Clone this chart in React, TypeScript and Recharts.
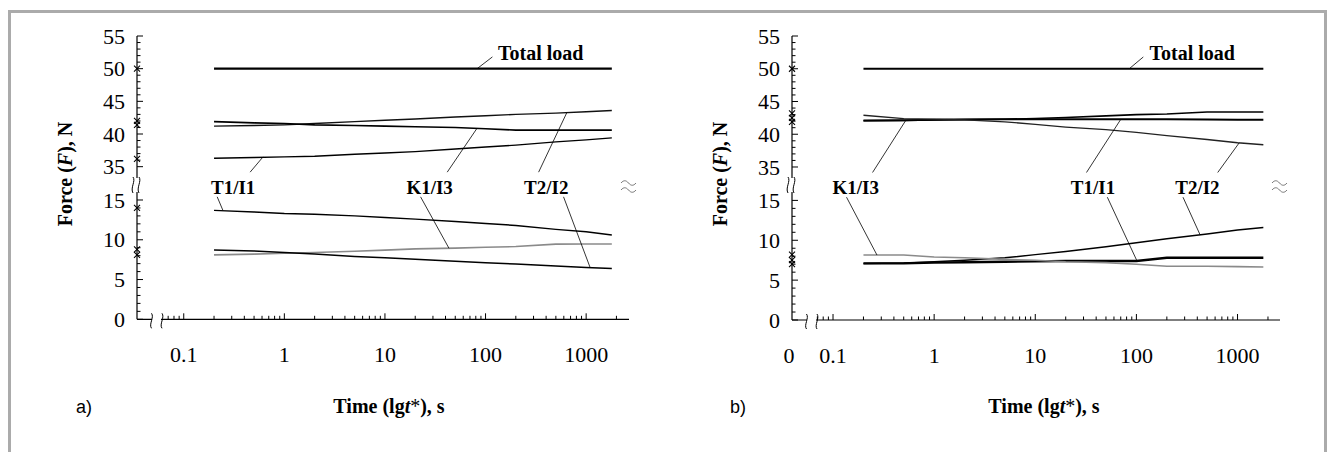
import React from 'react';
import {
  ComposedChart,
  Line,
  Scatter,
  XAxis,
  YAxis,
  ReferenceLine,
  ReferenceDot,
} from 'recharts';

// time points of the measured curves, s
const TIMES = [0.2, 0.5, 1, 2, 5, 10, 20, 50, 100, 200, 500, 1000, 1800];

// a) forces, N
const A_TOTAL = [50, 50, 50, 50, 50, 50, 50, 50, 50, 50, 50, 50, 50];
const A_T1I1_TOP = [36.3, 36.4, 36.5, 36.6, 36.9, 37.1, 37.3, 37.7, 38.0, 38.3, 38.8, 39.1, 39.4];
const A_T2I2_TOP = [41.2, 41.3, 41.4, 41.6, 41.9, 42.1, 42.3, 42.6, 42.8, 43.0, 43.2, 43.4, 43.6];
const A_K1I3_TOP = [41.9, 41.7, 41.6, 41.4, 41.3, 41.2, 41.1, 41.0, 40.8, 40.6, 40.6, 40.6, 40.6];
const A_T1I1_BOT = [13.7, 13.5, 13.3, 13.2, 13.0, 12.8, 12.6, 12.3, 12.05, 11.8, 11.3, 11.0, 10.6];
const A_K1I3_BOT = [8.1, 8.2, 8.3, 8.4, 8.55, 8.7, 8.85, 8.95, 9.05, 9.15, 9.45, 9.47, 9.47];
const A_T2I2_BOT = [8.7, 8.6, 8.4, 8.2, 7.9, 7.75, 7.55, 7.3, 7.1, 6.95, 6.7, 6.5, 6.4];
const A_START = [50, 42.0, 41.4, 36.2, 14.0, 8.8, 8.1];

// b) forces, N
const B_TOTAL = [50, 50, 50, 50, 50, 50, 50, 50, 50, 50, 50, 50, 50];
const B_K1I3_TOP = [42.05, 42.1, 42.2, 42.25, 42.3, 42.4, 42.55, 42.8, 43.0, 43.1, 43.4, 43.4, 43.4];
const B_T1I1_TOP = [42.1, 42.15, 42.2, 42.25, 42.3, 42.3, 42.3, 42.3, 42.3, 42.3, 42.25, 42.2, 42.2];
const B_T2I2_TOP = [42.9, 42.4, 42.3, 42.2, 41.9, 41.5, 41.1, 40.7, 40.3, 39.8, 39.2, 38.7, 38.4];
const B_T2I2_BOT = [7.1, 7.15, 7.3, 7.5, 7.8, 8.2, 8.6, 9.2, 9.7, 10.2, 10.8, 11.3, 11.6];
const B_T1I1_BOT = [7.1, 7.1, 7.2, 7.25, 7.3, 7.35, 7.4, 7.4, 7.4, 7.8, 7.8, 7.8, 7.8];
const B_K1I3_BOT = [8.15, 8.15, 7.9, 7.8, 7.6, 7.5, 7.3, 7.2, 7.0, 6.75, 6.75, 6.7, 6.65];
const B_START = [50, 43.2, 42.5, 41.9, 8.2, 7.5, 7.0];

const X_TICKS = [
  0.07, 0.08, 0.09, 0.1, 0.2, 0.3, 0.4, 0.5, 0.6, 0.7, 0.8, 0.9, 1, 2, 3, 4, 5, 6, 7, 8, 9,
  10, 20, 30, 40, 50, 60, 70, 80, 90, 100, 200, 300, 400, 500, 600, 700, 800, 900, 1000, 2000,
];
const X_LABELS = [0.1, 1, 10, 100, 1000];
const Y_TICKS = [
  0, 1, 2, 3, 4, 5, 6, 7, 8, 9, 10, 11, 12, 13, 14, 15,
  35, 36, 37, 38, 39, 40, 41, 42, 43, 44, 45, 46, 47, 48, 49, 50, 51, 52, 53, 54, 55,
];
const Y_LABELS = [0, 5, 10, 15, 35, 40, 45, 50, 55];

// broken force axis: 0-15 N below, 35-55 N above (a bit compressed)
const LOW_TOP = 15;
const GAP = 4.19;
const HIGH_K = 0.8215;
const toAxis = (f: number) => (f <= LOW_TOP ? f : LOW_TOP + GAP + (f - 35) * HIGH_K);
const fromAxis = (a: number) => (a <= LOW_TOP + 0.001 ? a : 35 + (a - LOW_TOP - GAP) / HIGH_K);
const Y_MAX = toAxis(55);

// positions inside the gap for callout text and leader ends (axis units)
const GAP_HI = 18.5;
const GAP_MID = 16.65;
const GAP_LO = 15.4;

const SERIF = '"Liberation Serif", "Times New Roman", serif';
const SANS = '"Liberation Sans", Arial, sans-serif';
const TICK_FONT = 22;

const panelA = {
  left: 0,
  mr: 31,
  mb: 92.7,
  xMin: 0.0343,
  xMax: 2667,
  zero: false,
  series: [
    { values: A_TOTAL, color: '#000', width: 2.2 },
    { values: A_T1I1_TOP, color: '#000', width: 1.4 },
    { values: A_T2I2_TOP, color: '#111', width: 1.4 },
    { values: A_K1I3_TOP, color: '#000', width: 1.6 },
    { values: A_T1I1_BOT, color: '#000', width: 1.4 },
    { values: A_K1I3_BOT, color: '#8a8a8a', width: 1.6 },
    { values: A_T2I2_BOT, color: '#000', width: 1.5 },
  ],
  starts: A_START,
  labels: [
    { text: 'Total load', t: 354, y: toAxis(52.4), size: 20 },
    { text: 'T1/I1', t: 0.31, y: GAP_MID, size: 19 },
    { text: 'K1/I3', t: 27.8, y: GAP_MID, size: 19 },
    { text: 'T2/I2', t: 401, y: GAP_MID, size: 19 },
  ],
  leaders: [
    [82.5, toAxis(50), 117, toAxis(51.8)],
    [0.457, GAP_HI, 0.614, toAxis(36.5)],
    [0.215, GAP_LO, 0.245, toAxis(13.7)],
    [41.6, GAP_HI, 82.5, toAxis(40.9)],
    [22.6, GAP_LO, 43.3, toAxis(8.93)],
    [337, GAP_HI, 644, toAxis(43.3)],
    [596, GAP_LO, 1096, toAxis(6.5)],
  ],
};

const panelB = {
  left: 655,
  mr: 35,
  mb: 92,
  xMin: 0.0393,
  xMax: 2630,
  zero: true,
  series: [
    { values: B_TOTAL, color: '#000', width: 2.2 },
    { values: B_K1I3_TOP, color: '#000', width: 1.6 },
    { values: B_T1I1_TOP, color: '#000', width: 2 },
    { values: B_T2I2_TOP, color: '#222', width: 1.3 },
    { values: B_T2I2_BOT, color: '#000', width: 1.5 },
    { values: B_T1I1_BOT, color: '#000', width: 2.4 },
    { values: B_K1I3_BOT, color: '#8a8a8a', width: 1.6 },
  ],
  starts: B_START,
  labels: [
    { text: 'Total load', t: 357, y: toAxis(52.4), size: 20 },
    { text: 'K1/I3', t: 0.168, y: GAP_MID, size: 19 },
    { text: 'T1/I1', t: 37.2, y: GAP_MID, size: 19 },
    { text: 'T2/I2', t: 401, y: GAP_MID, size: 19 },
  ],
  leaders: [
    [85, toAxis(50), 117, toAxis(51.8)],
    [0.246, GAP_HI, 0.521, toAxis(42.05)],
    [0.136, GAP_LO, 0.272, toAxis(8.15)],
    [32.1, GAP_HI, 70.2, toAxis(42.3)],
    [51.6, GAP_LO, 101, toAxis(7.45)],
    [637, GAP_HI, 1040, toAxis(38.7)],
    [289, GAP_LO, 424, toAxis(10.75)],
  ],
};

const XTick = (props: any) => {
  const { x, y, payload, zero, xMin } = props;
  const v = payload.value;
  if (v === xMin) {
    return zero ? (
      <text x={x - 3} y={y + 43} textAnchor="middle" fontSize={TICK_FONT} fontFamily={SERIF} fill="#000">
        0
      </text>
    ) : (
      <g />
    );
  }
  const major = X_LABELS.includes(v);
  return (
    <g>
      <line x1={x} x2={x} y1={y} y2={y - (major ? 6 : 3.5)} stroke="#000" strokeWidth={1} />
      {major && (
        <text x={x} y={y + 43} textAnchor="middle" fontSize={TICK_FONT} fontFamily={SERIF} fill="#000">
          {v}
        </text>
      )}
    </g>
  );
};

const YTick = (props: any) => {
  const { x, y, payload } = props;
  const f = Math.round(fromAxis(payload.value));
  const major = Y_LABELS.includes(f);
  return (
    <g>
      <line x1={x} x2={x + (major ? 6 : 3.5)} y1={y} y2={y} stroke="#000" strokeWidth={1} />
      {major && (
        <text x={x - 12} y={y} dy="0.35em" textAnchor="end" fontSize={TICK_FONT} fontFamily={SERIF} fill="#000">
          {f}
        </text>
      )}
    </g>
  );
};

const Cross = (props: any) => {
  const { cx, cy } = props;
  return (
    <g stroke="#000" strokeWidth={1.1}>
      <line x1={cx - 3} y1={cy - 3} x2={cx + 3} y2={cy + 3} />
      <line x1={cx - 3} y1={cy + 3} x2={cx + 3} y2={cy - 3} />
    </g>
  );
};

const Panel = ({ p }: { p: typeof panelA }) => {
  const ticks = p.zero ? [p.xMin, ...X_TICKS] : X_TICKS;
  const starts = p.starts.map((f) => ({ t: p.xMin, y: toAxis(f) }));
  return (
    <div style={{ position: 'absolute', left: p.left, top: 0 }}>
      <ComposedChart width={660} height={452} margin={{ top: 36, right: p.mr, bottom: p.mb, left: 77 }}>
        <XAxis
          dataKey="t"
          type="number"
          scale="log"
          domain={[p.xMin, p.xMax]}
          ticks={ticks}
          interval={0}
          tickSize={0}
          tickMargin={0}
          tickLine={false}
          height={40}
          axisLine={{ stroke: '#000', strokeWidth: 1.2 }}
          tick={<XTick zero={p.zero} xMin={p.xMin} />}
        />
        <XAxis
          xAxisId="top"
          orientation="top"
          dataKey="t"
          type="number"
          scale="log"
          domain={[p.xMin, p.xMax]}
          height={0}
          tick={false}
          tickLine={false}
          axisLine={{ stroke: '#9a9a9a', strokeWidth: 1.2 }}
        />
        <YAxis
          dataKey="y"
          type="number"
          domain={[0, Y_MAX]}
          ticks={Y_TICKS.map(toAxis)}
          interval={0}
          tickSize={0}
          tickMargin={0}
          tickLine={false}
          width={60}
          axisLine={{ stroke: '#000', strokeWidth: 1.2 }}
          tick={<YTick />}
        />
        <YAxis
          yAxisId="right"
          orientation="right"
          type="number"
          domain={[0, Y_MAX]}
          width={0}
          tick={false}
          tickLine={false}
          axisLine={{ stroke: '#9a9a9a', strokeWidth: 1.2 }}
        />
        {p.series.map((s, i) => (
          <Line
            key={i}
            data={TIMES.map((t, j) => ({ t, y: toAxis(s.values[j]) }))}
            dataKey="y"
            type="linear"
            stroke={s.color}
            strokeWidth={s.width}
            dot={false}
            isAnimationActive={false}
          />
        ))}
        <Scatter data={starts} dataKey="y" shape={<Cross />} isAnimationActive={false} />
        {p.leaders.map((l, i) => (
          <ReferenceLine
            key={'l' + i}
            segment={[
              { x: l[0], y: l[1] },
              { x: l[2], y: l[3] },
            ]}
            stroke="#000"
            strokeWidth={0.8}
            ifOverflow="visible"
          />
        ))}
        {p.labels.map((lb, i) => (
          <ReferenceDot
            key={'t' + i}
            x={lb.t}
            y={lb.y}
            r={0}
            ifOverflow="visible"
            shape={(sp: any) => (
              <text
                x={sp.cx}
                y={sp.cy}
                dy="0.35em"
                textAnchor="middle"
                fontSize={lb.size}
                fontWeight="bold"
                fontFamily={SERIF}
                fill="#000"
              >
                {lb.text}
              </text>
            )}
          />
        ))}
      </ComposedChart>
    </div>
  );
};

// axis break marks (decoration drawn over the charts)
const Breaks = ({ ax, right, bottom }: { ax: number; right: number; bottom: number }) => (
  <g fill="none" stroke="#000" strokeWidth={1}>
    <rect x={ax - 2} y={178} width={4} height={14} fill="#fff" stroke="none" />
    <path d={`M ${ax - 4} 177 c 3 4 -3 11 0 16`} />
    <path d={`M ${ax + 2} 177 c 3 4 -3 11 0 16`} />
    <rect x={ax + 15} y={bottom - 2} width={9} height={4} fill="#fff" stroke="none" />
    <path d={`M ${ax + 14.5} ${bottom - 6} c 3 4 -3 11 0 15`} />
    <path d={`M ${ax + 25} ${bottom - 6} c 3 4 -3 11 0 15`} />
    <rect x={right - 2} y={180} width={4} height={12} fill="#fff" stroke="none" />
    <path d={`M ${right - 8} 183 c 2.5 -3 5 -3 7.5 0 s 5 3 7.5 0`} stroke="#777" />
    <path d={`M ${right - 8} 190 c 2.5 -3 5 -3 7.5 0 s 5 3 7.5 0`} stroke="#777" />
  </g>
);

const App = () => (
  <div
    style={{
      position: 'absolute',
      left: 0,
      top: 0,
      width: 1328,
      height: 452,
      background: '#fff',
      overflow: 'hidden',
    }}
  >
    <div
      style={{
        position: 'absolute',
        left: 8,
        top: 10,
        width: 1319,
        height: 500,
        boxSizing: 'border-box',
        border: '3px solid #ababab',
      }}
    />
    <Panel p={panelA} />
    <Panel p={panelB} />
    <svg
      width={1328}
      height={452}
      style={{ position: 'absolute', left: 0, top: 0, pointerEvents: 'none' }}
    >
      <Breaks ax={137} right={629} bottom={319.3} />
      <Breaks ax={792} right={1280} bottom={320} />
      <g fontFamily={SERIF} fontWeight="bold" fontSize={20} fill="#000">
        <text transform="translate(72 174) rotate(-90)" textAnchor="middle">
          Force (<tspan fontStyle="italic">F</tspan>), N
        </text>
        <text transform="translate(727 174) rotate(-90)" textAnchor="middle">
          Force (<tspan fontStyle="italic">F</tspan>), N
        </text>
        <text x={389} y={413} textAnchor="middle">
          Time (lg<tspan fontStyle="italic">t</tspan>
          <tspan fontWeight="normal">*</tspan>), s
        </text>
        <text x={1044} y={413} textAnchor="middle">
          Time (lg<tspan fontStyle="italic">t</tspan>
          <tspan fontWeight="normal">*</tspan>), s
        </text>
      </g>
      <g fontFamily={SANS} fontSize={18} fill="#000">
        <text x={84} y={413} textAnchor="middle">a)</text>
        <text x={738} y={413} textAnchor="middle">b)</text>
      </g>
    </svg>
  </div>
);

export default App;
